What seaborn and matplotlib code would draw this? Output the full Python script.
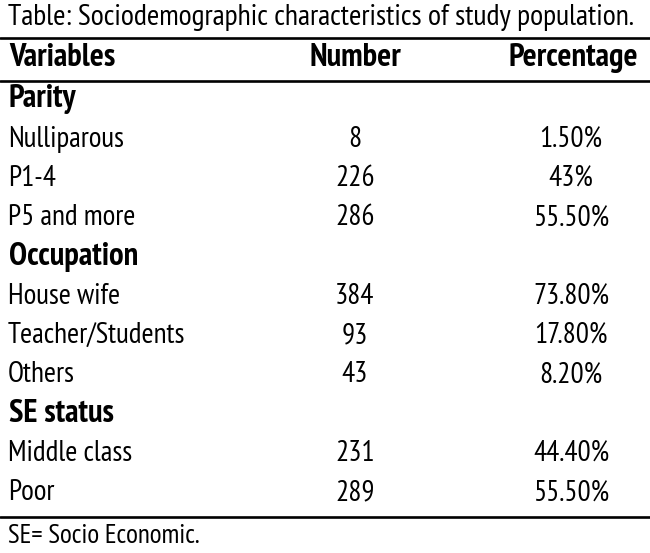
import matplotlib.pyplot as plt
import seaborn as sns

title = "Table: Sociodemographic characteristics of study population."
headers = ["Variables", "Number", "Percentage"]
groups = ["Parity", "Occupation", "SE status"]
labels = [
    ["Nulliparous", "P1-4", "P5 and more"],
    ["House wife", "Teacher/Students", "Others"],
    ["Middle class", "Poor"],
]
numbers = [[8, 226, 286], [384, 93, 43], [231, 289]]
percents = [["1.50%", "43%", "55.50%"], ["73.80%", "17.80%", "8.20%"], ["44.40%", "55.50%"]]
footnote = "SE= Socio Economic."

sns.set_theme(style="white")
plt.rcParams["font.family"] = ["PT Sans Narrow", "DejaVu Sans"]
plt.rcParams["text.color"] = "black"

fig = plt.figure(figsize=(6.5, 5.53), dpi=100)
ax = fig.add_axes([0, 0, 1, 1])
ax.set_xlim(0, 650)
ax.set_ylim(553, 0)
ax.axis("off")

fs = 21        # body
fs_b = 23.5    # bold headers
fs_t = 21.5    # title

ax.text(8, 25, title, fontsize=fs_t, va="baseline")
ax.axhline(37.5, color="black", lw=1.9)
ax.text(9, 66, headers[0], fontsize=fs_b, fontweight="bold", va="baseline")
ax.text(355, 66, headers[1], fontsize=fs_b, fontweight="bold", va="baseline", ha="center")
ax.text(638, 66, headers[2], fontsize=fs_b, fontweight="bold", va="baseline", ha="right")
ax.axhline(80.5, color="black", lw=1.9)

y = 107.3
step = 39.3
for g, labs, nums, pcts in zip(groups, labels, numbers, percents):
    ax.text(9, y, g, fontsize=fs_b, fontweight="bold", va="baseline")
    y += step
    for lab, n, p in zip(labs, nums, pcts):
        ax.text(8, y, lab, fontsize=fs, va="baseline")
        ax.text(355, y, str(n), fontsize=fs, va="baseline", ha="center")
        ax.text(571, y, p, fontsize=fs, va="baseline", ha="center")
        y += step

ax.axhline(517, color="black", lw=1.9)
ax.text(8, 543, footnote, fontsize=19.5, va="baseline")

fig.savefig("out.png", dpi=100)
